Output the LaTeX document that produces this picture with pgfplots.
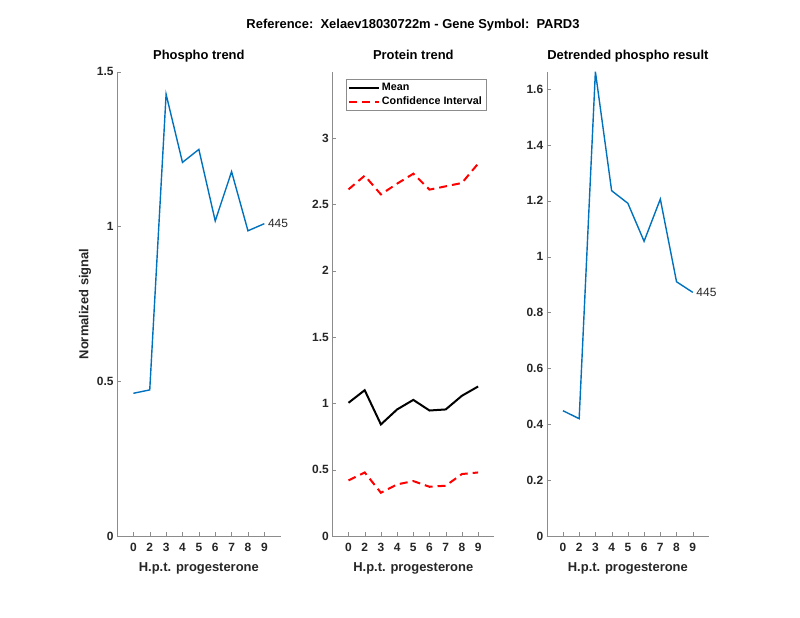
\documentclass[border=0pt]{standalone}
\usepackage{pgfplots}
\pgfplotsset{compat=1.18}
\usepackage{fontspec}
\setmainfont{Liberation Sans}

\definecolor{mblue}{RGB}{0,114,189}
\definecolor{axgray}{RGB}{38,38,38}
\definecolor{linegray}{RGB}{140,140,140}

\pgfplotsset{
  panel/.style={
    scale only axis,
    anchor=south west,
    height=464.3bp,
    axis x line=bottom,
    axis y line=left,
    axis line style={-,linegray},
    tick align=inside,
    major tick length=4bp,
    tick style={linegray},
    xmin=0, xmax=10,
    xtick={1,...,9},
    xticklabels={0,2,3,4,5,6,7,8,9},
    ymin=0,
    /pgf/number format/assume math mode=true,
    ticklabel style={font=\bfseries\fontsize{12}{14}\selectfont, text=axgray},
    xticklabel style={yshift=-4bp},
    xlabel={H.p.t. progesterone},
    xlabel style={font=\bfseries\fontsize{13}{15}\selectfont, text=axgray, yshift=-4bp},
    title style={font=\bfseries\fontsize{13}{15}\selectfont, at={(0.5,1)}, anchor=base, yshift=6.5bp},
    clip=false,
  },
}

\begin{document}
\begin{tikzpicture}
\path[use as bounding box] (0bp,0bp) rectangle (800bp,618bp);

\node[font=\bfseries\fontsize{13}{15}\selectfont] at (413bp,592.8bp)
  {Reference:\ \ Xelaev18030722m - Gene Symbol:\ \ PARD3};

% Phospho trend
\begin{axis}[panel, at={(117bp,82bp)}, width=163.7bp,
  ymax=1.5, ytick={0,0.5,1,1.5},
  title={Phospho trend},
  ylabel={Normalized signal},
  ylabel style={font=\bfseries\fontsize{13}{15}\selectfont, text=axgray, yshift=-1bp},
]
\addplot[mblue, line width=1.4bp] coordinates {
(1,0.461) (2,0.472) (3,1.427) (4,1.207) (5,1.249)
(6,1.018) (7,1.177) (8,0.986) (9,1.009)
};
\node[anchor=west, font=\fontsize{12}{14}\selectfont, text=axgray, inner sep=3.5bp]
  at (axis cs:9,1.009) {445};
\end{axis}

% Protein trend
\begin{axis}[panel, at={(332.3bp,82bp)}, width=162bp,
  ymax=3.5, ytick={0,0.5,1,1.5,2,2.5,3},
  title={Protein trend},
  legend cell align=left,
  legend style={at={(0.083,0.984)}, anchor=north west, draw=linegray,
    font=\bfseries\fontsize{10.8}{12}\selectfont, inner sep=2bp,
    row sep=1bp},
  legend image code/.code={\draw[#1] (0bp,0bp) -- (30bp,0bp);},
]
\addplot[black, line width=2bp] coordinates {
(1,1.004) (2,1.099) (3,0.841) (4,0.954) (5,1.026)
(6,0.946) (7,0.954) (8,1.057) (9,1.127)
};
\addlegendentry{Mean}
\addplot[red, line width=2bp, dash pattern=on 8bp off 5bp] coordinates {
(1,2.613) (2,2.716) (3,2.575) (4,2.656) (5,2.731)
(6,2.611) (7,2.636) (8,2.661) (9,2.807)
};
\addlegendentry{Confidence Interval}
\addplot[red, line width=2bp, dash pattern=on 8bp off 5bp, forget plot] coordinates {
(1,0.419) (2,0.479) (3,0.326) (4,0.389) (5,0.414)
(6,0.371) (7,0.379) (8,0.467) (9,0.479)
};
\end{axis}

% Detrended phospho result
\begin{axis}[panel, at={(546.7bp,82bp)}, width=162.3bp,
  ymax=1.662, ytick={0,0.2,0.4,0.6,0.8,1,1.2,1.4,1.6},
  yticklabel style={/pgf/number format/fixed, /pgf/number format/precision=1},
  title={Detrended phospho result},
]
\addplot[mblue, line width=1.4bp] coordinates {
(1,0.4485) (2,0.420) (3,1.662) (4,1.236) (5,1.191)
(6,1.055) (7,1.206) (8,0.910) (9,0.872)
};
\node[anchor=west, font=\fontsize{12}{14}\selectfont, text=axgray, inner sep=3.5bp]
  at (axis cs:9,0.872) {445};
\end{axis}
\end{tikzpicture}
\end{document}
